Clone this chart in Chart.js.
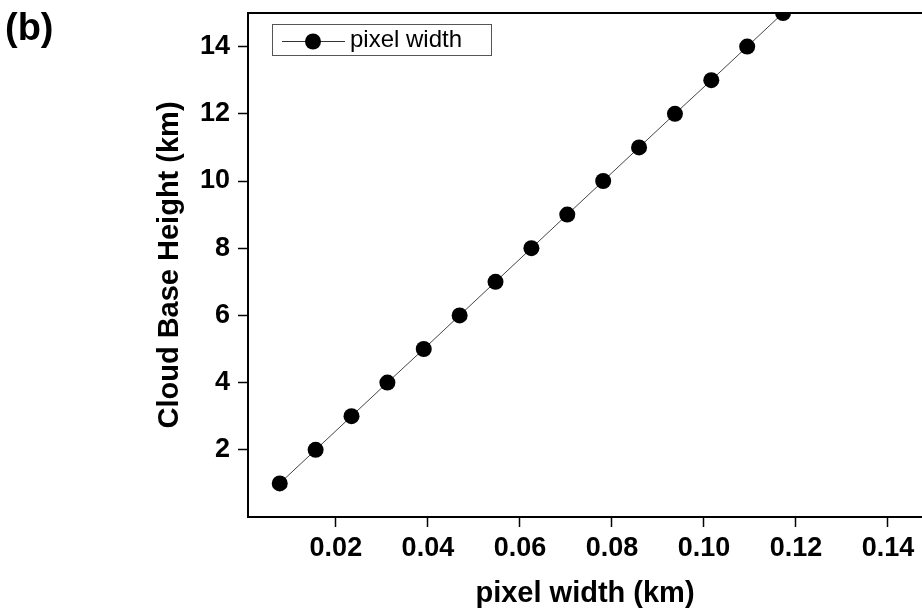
<!DOCTYPE html>
<html>
<head>
<meta charset="utf-8">
<script src="https://cdn.jsdelivr.net/npm/chart.js@4.4.0/dist/chart.umd.min.js"></script>
<style>
body { margin: 0; background: #fff; overflow: hidden; }
#wrap { position: relative; width: 922px; height: 612px; }
#panel { position: absolute; left: 5px; top: 6px; font: bold 38px "Liberation Sans", Arial, sans-serif; color: #000; }
</style>
</head>
<body>
<div id="wrap">
  <canvas id="myChart" width="922" height="612"></canvas>
  <div id="panel">(b)</div>
</div>
<script>
// values
var pixelWidth = [0.0078, 0.0156, 0.0234, 0.0312, 0.0391, 0.0469, 0.0547, 0.0625, 0.0703, 0.0781, 0.0859, 0.0937, 0.1016, 0.1094, 0.1172];
var cloudBase = [1, 2, 3, 4, 5, 6, 7, 8, 9, 10, 11, 12, 13, 14, 15];
var xTicks = [0.02, 0.04, 0.06, 0.08, 0.10, 0.12, 0.14];
var yTicks = [2, 4, 6, 8, 10, 12, 14];
var seriesName = 'pixel width';
var xTitle = 'pixel width (km)';
var yTitle = 'Cloud Base Height (km)';

var fam = '"Liberation Sans", Arial, sans-serif';

var points = pixelWidth.map(function (x, i) { return { x: x, y: cloudBase[i] }; });

// top frame line + legend box inside the plot
var frameAndLegend = {
  id: 'frameAndLegend',
  afterDatasetsDraw: function (chart) {
    var ctx = chart.ctx, a = chart.chartArea;
    ctx.save();
    ctx.strokeStyle = '#000';
    ctx.lineWidth = 2;
    ctx.beginPath();
    ctx.moveTo(a.left - 1, a.top);
    ctx.lineTo(a.right, a.top);
    ctx.stroke();

    ctx.fillStyle = '#fff';
    ctx.fillRect(272, 24, 220, 31);
    ctx.strokeStyle = '#555';
    ctx.lineWidth = 1;
    ctx.strokeRect(272.5, 24.5, 219, 31);

    ctx.strokeStyle = '#333';
    ctx.beginPath();
    ctx.moveTo(282, 41.5);
    ctx.lineTo(345, 41.5);
    ctx.stroke();
    ctx.fillStyle = '#000';
    ctx.beginPath();
    ctx.arc(313, 41.5, 8, 0, Math.PI * 2);
    ctx.fill();

    ctx.font = '24px ' + fam;
    ctx.textBaseline = 'middle';
    ctx.fillText(chart.data.datasets[0].label, 350, 40);
    ctx.restore();
  }
};

var ctx = document.getElementById('myChart').getContext('2d');
var myChart = new Chart(ctx, {
  type: 'scatter',
  data: {
    datasets: [{
      label: seriesName,
      data: points,
      showLine: true,
      borderColor: '#444',
      borderWidth: 1,
      pointRadius: 8,
      pointHoverRadius: 8,
      pointBackgroundColor: '#000',
      pointBorderWidth: 0,
      clip: 0
    }]
  },
  options: {
    responsive: false,
    animation: false,
    layout: { autoPadding: false, padding: { top: 13, left: 0, right: 0, bottom: 0 } },
    plugins: { legend: { display: false }, tooltip: { enabled: false } },
    scales: {
      x: {
        type: 'linear',
        min: 0.0009,
        max: 0.1474,
        afterBuildTicks: function (s) { s.ticks = xTicks.map(function (v) { return { value: v }; }); },
        afterFit: function (s) { s.height = 95; s.paddingLeft = 0; s.paddingRight = 0; },
        grid: { drawOnChartArea: false, drawTicks: true, tickLength: 10, tickColor: '#000', tickWidth: 1.5 },
        border: { display: true, color: '#000', width: 2 },
        ticks: {
          color: '#000',
          padding: 5,
          maxRotation: 0,
          font: { family: fam, size: 27, weight: 'bold' },
          callback: function (v) { return v.toFixed(2); }
        },
        title: {
          display: true,
          text: xTitle,
          color: '#000',
          font: { family: fam, size: 29, weight: 'bold' },
          padding: { top: 0, bottom: 1 }
        }
      },
      y: {
        type: 'linear',
        min: 0,
        max: 15,
        afterBuildTicks: function (s) { s.ticks = yTicks.map(function (v) { return { value: v }; }); },
        afterFit: function (s) { s.width = 248; s.paddingTop = 0; s.paddingBottom = 0; },
        grid: { drawOnChartArea: false, drawTicks: true, tickLength: 10, tickColor: '#000', tickWidth: 1.5 },
        border: { display: true, color: '#000', width: 2 },
        ticks: {
          color: '#000',
          padding: 8,
          font: { family: fam, size: 27, weight: 'bold' }
        },
        title: {
          display: true,
          text: yTitle,
          color: '#000',
          font: { family: fam, size: 29, weight: 'bold' },
          padding: { top: 153, bottom: 0 }
        }
      }
    }
  },
  plugins: [frameAndLegend]
});
</script>
</body>
</html>
